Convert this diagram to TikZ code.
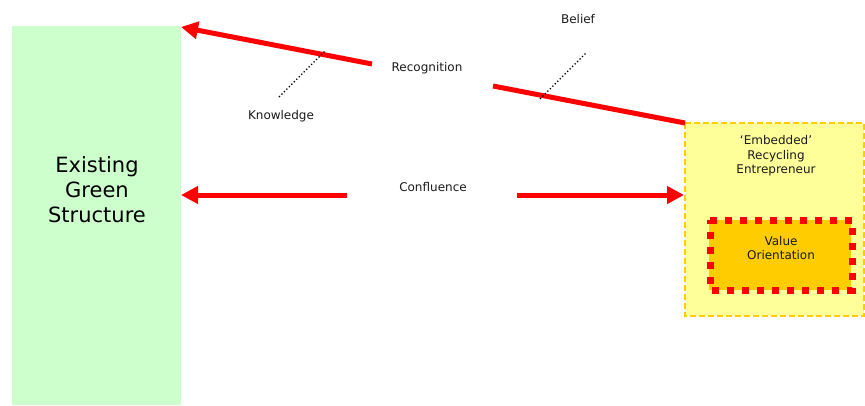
\documentclass[tikz,border=0pt]{standalone}
\usepackage{fontspec}
\setmainfont{DejaVu Sans}
\usetikzlibrary{arrows.meta}
\definecolor{greenbox}{HTML}{CCFFCC}
\definecolor{paleyellow}{HTML}{FFFF99}
\definecolor{gold}{HTML}{FFCC00}
\definecolor{txt}{HTML}{1A1A1A}
\tikzset{
  small/.style={font=\fontsize{12}{14.5}\selectfont, text=txt, align=center, inner sep=0pt},
  redline/.style={draw=red, line width=5pt},
  redarrow/.style={redline, -{Triangle[length=17pt,width=17pt]}},
  hint/.style={draw=black, line width=1.3pt, dash pattern=on 1.3pt off 2.2pt},
}
\begin{document}
\begin{tikzpicture}[x=1pt,y=-1pt]
  \useasboundingbox (0,0) rectangle (865,405);

  % left block
  \fill[greenbox] (12,26) rectangle (181,405);
  \coordinate (gs-ne) at (181,27);
  \coordinate (gs-e) at (181,195);
  \node[font=\fontsize{21}{25}\selectfont, text=black, align=center, inner sep=0pt] (gs) at (97,190)
    {Existing\\Green\\Structure};

  % entrepreneur block
  \draw[draw=gold, fill=paleyellow, line width=1.5pt, dash pattern=on 6pt off 3pt]
    (685,123) rectangle (864,316);
  \coordinate (ent-nw) at (685,123);
  \coordinate (ent-w) at (684,195);
  \node[small] (ent) at (776,156) {`Embedded'\\Recycling\\Entrepreneur};

  % value orientation
  \fill[gold] (709,220) rectangle (851,290);
  \draw[draw=red, line width=7pt, dash pattern=on 7pt off 8pt]
    (710,220) -- (852,220) -- (852,290) -- (710,290) -- cycle;
  \node[small] (val) at (781,248) {Value\\Orientation};

  % recognition
  \node[small] (rec) at (427,68) {Recognition};
  \coordinate (r1) at (493,86);
  \coordinate (r2) at (372,64);
  \draw[redline] (ent-nw) -- (r1);
  \draw[redarrow] (r2) -- (gs-ne);

  % knowledge and belief
  \node[small] (kn) at (281,116) {Knowledge};
  \node[small] (be) at (578,19) {Belief};
  \coordinate (k0) at (279,97);
  \coordinate (k1) at (325,51);
  \coordinate (b0) at (540,99);
  \coordinate (b1) at (587,52);
  \draw[hint] (k0) -- (k1);
  \draw[hint] (b0) -- (b1);

  % confluence
  \node[small] (con) at (433,187) {Confluence};
  \coordinate (c1) at (347,195);
  \coordinate (c2) at (517,195);
  \draw[redarrow] (c1) -- (gs-e);
  \draw[redarrow] (c2) -- (ent-w);
\end{tikzpicture}
\end{document}
